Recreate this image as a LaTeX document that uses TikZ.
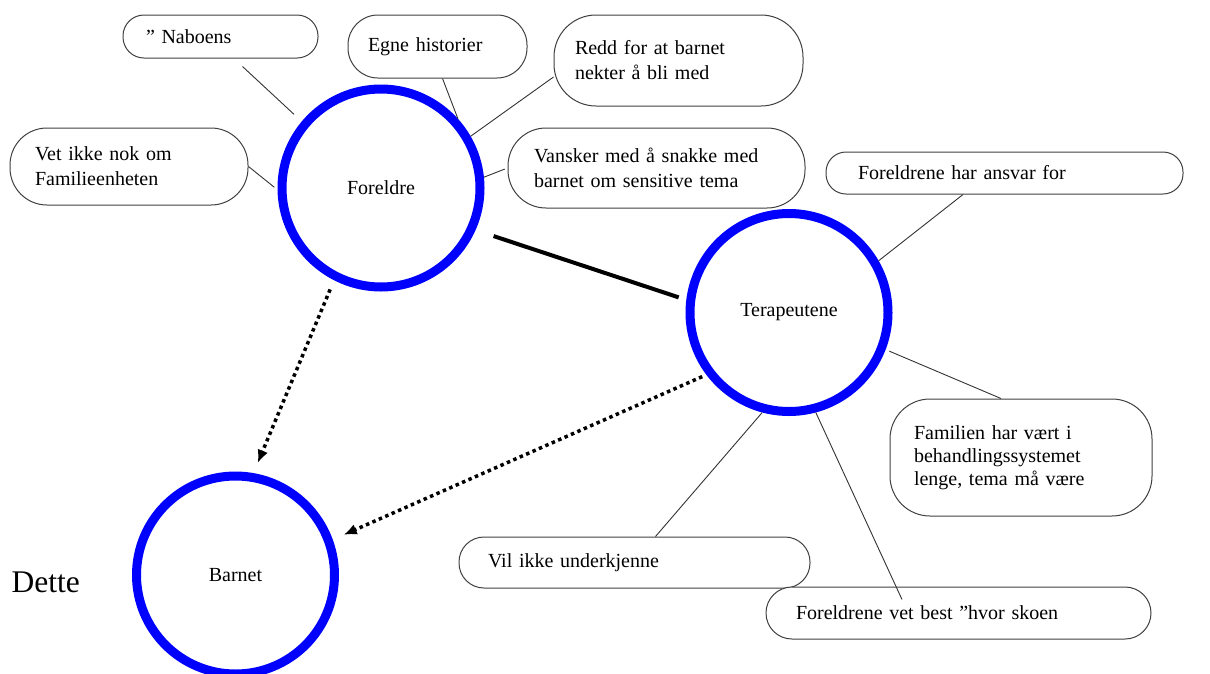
\documentclass[tikz,border=0pt]{standalone}
\usepackage{fontspec}
\setmainfont{Liberation Serif}
\usepackage{tikz}
\usetikzlibrary{arrows.meta,positioning,calc}
\tikzstyle{link} = [draw, line width=0.9pt, color=black!80]
\tikzstyle{tie} = [draw, line width=4pt, color=black]
\tikzstyle{influence} = [draw, line width=3.5pt, dash pattern=on 3.5pt off 3.5pt, -{Latex[length=13pt,width=11pt]}]

\begin{document}
\begin{tikzpicture}[x=1pt, y=-1pt, font=\fontsize{20}{25}\selectfont]
\tikzset{actor/.style={circle, draw=blue, line width=9pt, fill=white, minimum size=198pt, inner sep=0pt}}
\tikzset{bubble/.style={rectangle, draw=black!75, line width=1pt, fill=white, inner sep=0pt, align=left}}
\useasboundingbox (0,0) rectangle (1210,673);

% the three actors
\node[actor] (for) at (381,188)     {Foreldre};
\node[actor] (ter) at (789,312.5)   {Terapeutene};
\node[actor] (bar) at (235.5,575)   {Barnet};

\node[anchor=base west, font=\fontsize{31.5}{36}\selectfont] (dette) at (8,592) {Dette};

% bubbles round Foreldre
\node[bubble, rounded corners=21pt, minimum width=195pt, minimum height=43pt, text width=149pt] (nab) at (220.5,36.5) {” Naboens};
\node[bubble, rounded corners=30pt, minimum width=179pt, minimum height=63pt, text width=139pt] (egne) at (437.5,46.5) {Egne historier};
\node[bubble, rounded corners=42pt, minimum width=249pt, minimum height=91pt, text width=207pt] (redd) at (678.5,60.5) {Redd for at barnet\\nekter å bli med};
\node[bubble, rounded corners=38pt, minimum width=297pt, minimum height=80pt, text width=245pt] (van) at (656.5,168) {Vansker med å snakke med\\barnet om sensitive tema};
\node[bubble, rounded corners=37pt, minimum width=238pt, minimum height=77pt, text width=188pt] (vet) at (129,166.5) {Vet ikke nok om\\Familieenheten};

% bubbles round Terapeutene
\node[bubble, rounded corners=20pt, minimum width=357pt, minimum height=42pt, text width=293pt] (fha) at (1004.5,173) {Foreldrene har ansvar for};
\node[bubble, rounded corners=40pt, minimum width=262pt, minimum height=117pt, text width=214pt, font=\fontsize{20}{23}\selectfont] (fam) at (1021,457.5) {Familien har vært i\\behandlingssystemet\\lenge, tema må være};
\node[bubble, rounded corners=25pt, minimum width=351pt, minimum height=51pt, text width=293pt] (vil) at (634.5,562.5) {Vil ikke underkjenne};
\node[bubble, rounded corners=26pt, minimum width=385pt, minimum height=52pt, text width=325pt] (vfb) at (958.5,613) {Foreldrene vet best ”hvor skoen};

% spokes
\path[link, shorten >=10.5pt] ([xshift=22pt, yshift=-8pt]nab.south) -- (for.140);
\path[link] ([xshift=5pt]egne.south) -- (for.42);
\path[link] ([yshift=-16.5pt]redd.west) -- (for.30);
\path[link, shorten <=3pt] (van.west) -- (for.6);
\path[link, shorten >=4pt] (vet.east) -- (for.181);

\path[link] ([xshift=-41.5pt]fha.south) -- (ter.30);
\path[link, shorten >=4pt] ([xshift=-20pt]fam.north) -- (ter.-21);
\path[link] ([xshift=21pt]vil.north) -- (ter.255);
\path[link] (ter.285) -- ([xshift=-56.5pt, yshift=-13pt]vfb.north);

% relations
\path[tie, shorten <=19pt, shorten >=8pt] (for.-24) -- (ter.173);
\path[influence, shorten <=10pt, shorten >=11pt] (for.243) -- (bar.80);
\path[influence, shorten <=4.5pt, shorten >=12pt] (ter.217) -- (bar.20);
\end{tikzpicture}
\end{document}
